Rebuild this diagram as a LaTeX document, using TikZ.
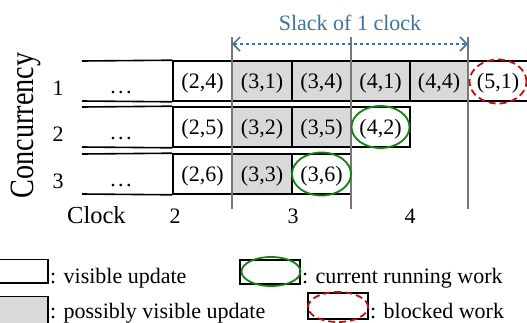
\documentclass[tikz,border=0pt]{standalone}
\usepackage{fontspec}
\setmainfont{Liberation Serif}
\newfontfamily\concfont[FakeStretch=0.83]{Liberation Serif}
\usetikzlibrary{arrows.meta}
\definecolor{cellgray}{RGB}{217,217,217}
\definecolor{guide}{RGB}{120,120,120}
\definecolor{slackblue}{RGB}{65,113,156}
\definecolor{rungreen}{RGB}{20,130,20}
\definecolor{blockred}{RGB}{200,10,10}
\begin{document}
\begin{tikzpicture}[x=1pt,y=-1pt,
  txt/.style={font=\fontsize{22}{26}\selectfont, inner sep=0pt},
  cell/.style={draw=black, line width=1.6pt, inner sep=0pt, minimum height=40pt,
               text height=15pt, text depth=0pt, font=\fontsize{22}{26}\selectfont},
  vis/.style={cell, fill=white},
  pvis/.style={cell, fill=cellgray},
  cellline/.style={line width=1.6pt},
  guideline/.style={draw=guide, line width=1.7pt},
  running/.style={draw=rungreen, line width=1.8pt},
  blocked/.style={draw=blockred, line width=1.8pt, dash pattern=on 7pt off 4pt},
  slackarrow/.style={draw=slackblue, line width=1.5pt, dash pattern=on 3.5pt off 2.5pt,
               {Straight Barb[length=7pt,width=14pt]}-{Straight Barb[length=7pt,width=14pt]}}
]
\useasboundingbox (0,0) rectangle (527,322);

% row 1
\node[vis]  (c24) at (202.5,81) [minimum width=59pt] {(2,4)};
\node[pvis] (c31) at (262,81)   [minimum width=60pt] {(3,1)};
\node[pvis] (c34) at (321.5,81) [minimum width=59pt] {(3,4)};
\node[pvis] (c41) at (380.5,81) [minimum width=59pt] {(4,1)};
\node[pvis] (c44) at (439,81)   [minimum width=58pt] {(4,4)};
\node[vis]  (c51) at (498,81)   [minimum width=60pt] {(5,1)};
% row 2
\node[vis]  (c25) at (202.5,127) [minimum width=59pt] {(2,5)};
\node[pvis] (c32) at (262,127)   [minimum width=60pt] {(3,2)};
\node[pvis] (c35) at (321.5,127) [minimum width=59pt] {(3,5)};
\node[vis]  (c42) at (380.5,127) [minimum width=59pt] {(4,2)};
% row 3
\node[vis]  (c26) at (202.5,174) [minimum width=59pt] {(2,6)};
\node[pvis] (c33) at (262,174)   [minimum width=60pt] {(3,3)};
\node[vis]  (c36) at (321.5,174) [minimum width=59pt] {(3,6)};

% "..." parts of the rows
\draw[cellline] (82,61) -- (c24.north west);
\draw[cellline] (82,101) -- (c24.south west);
\draw[cellline] (82,107) -- (c25.north west);
\draw[cellline] (82,147) -- (c25.south west);
\draw[cellline] (82,154) -- (c26.north west);
\draw[cellline] (82,194) -- (c26.south west);
\node[txt, anchor=base] (d1) at (121,93) {.\kern2.5pt.\kern2.5pt.};
\node[txt, anchor=base] (d2) at (121,139) {.\kern2.5pt.\kern2.5pt.};
\node[txt, anchor=base] (d3) at (121,186) {.\kern2.5pt.\kern2.5pt.};

% clock guide lines
\coordinate (g1t) at (232,37);  \coordinate (g1b) at (232,209);
\coordinate (g2t) at (351,37);  \coordinate (g2b) at (351,209);
\coordinate (g3t) at (468,37);  \coordinate (g3b) at (468,209);
\draw[guideline] (g1t) -- (g1b);
\draw[guideline] (g2t) -- (g2b);
\draw[guideline] (g3t) -- (g3b);

% marks
\draw[running] (c42.center) ellipse [x radius=29pt, y radius=21pt];
\draw[running] (c36.center) ellipse [x radius=29.5pt, y radius=21.5pt];
\draw[blocked] ([yshift=-0.5pt]c51.center) ellipse [x radius=28.5pt, y radius=22pt];

% slack arrow
\coordinate (s1) at (232,44);
\coordinate (s2) at (468,44);
\draw[slackarrow] (s1) -- (s2);
\node[txt, anchor=base, text=slackblue] (slack) at (350,30.5) {Slack of 1 clock};

% axis labels
\node[inner sep=0pt, rotate=90, anchor=base, font=\concfont\fontsize{34}{38}\selectfont] (conc) at (33.3,125.5) {Concurrency};
\node[txt, anchor=base] (r1) at (58,95) {1};
\node[txt, anchor=base] (r2) at (58,141) {2};
\node[txt, anchor=base] (r3) at (58,188) {3};
\node[inner sep=0pt, anchor=base west, font=\fontsize{24.5}{28}\selectfont] (clock) at (67,223) {Clock};
\node[txt, anchor=base] (k2) at (175,223) {2};
\node[txt, anchor=base] (k3) at (293,223) {3};
\node[txt, anchor=base] (k4) at (410,223) {4};

% legend
\draw[cellline, fill=white] (-5,259.5) rectangle (48,283);
\node[txt, anchor=base west] (lv) at (50,283) {: visible update};
\draw[cellline, fill=cellgray] (-5,296.5) rectangle (48,326);
\node[txt, anchor=base west] (lp) at (50,318) {: possibly visible update};
\draw[cellline, fill=white] (240,260) rectangle (300,284);
\draw[running] (271,271.5) ellipse [x radius=29.5pt, y radius=14.5pt];
\node[txt, anchor=base west] (lr) at (302,283) {: current running work};
\draw[cellline, fill=white] (308,293) rectangle (368,319);
\draw[blocked] (338,307) ellipse [x radius=30pt, y radius=15pt];
\node[txt, anchor=base west] (lb) at (370,318) {: blocked work};
\end{tikzpicture}
\end{document}
